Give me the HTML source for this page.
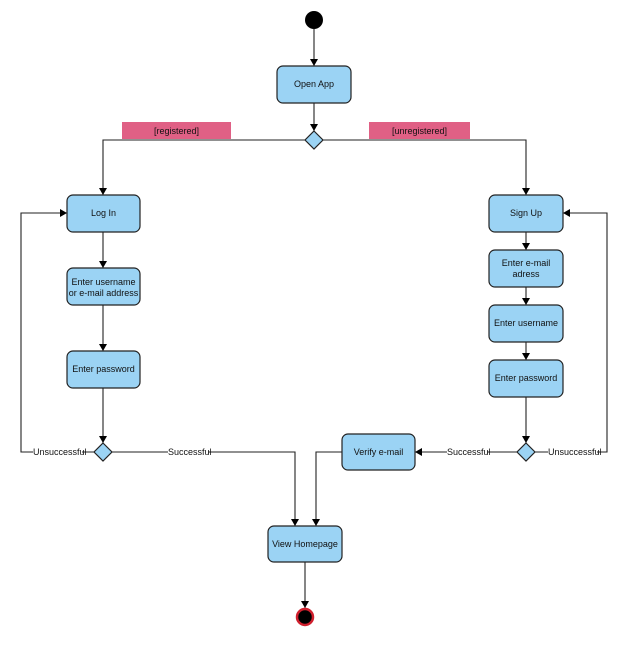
<!DOCTYPE html>
<html><head><meta charset="utf-8"><style>
html,body{margin:0;padding:0;background:#fff;}
svg{display:block;}
text{font-family:"Liberation Sans",Arial,sans-serif;font-size:9px;fill:#111;}
</style></head><body>
<svg width="628" height="647" viewBox="0 0 628 647" xmlns="http://www.w3.org/2000/svg">
<defs>
<marker id="a" markerWidth="8" markerHeight="8" refX="7" refY="4" orient="auto" markerUnits="userSpaceOnUse">
<path d="M0,0 L7,4 L0,8 z" fill="#000"/></marker>
</defs>
<g fill="none" stroke="#222" stroke-width="1.1">
<path d="M314,29 V66" marker-end="url(#a)"/>
<path d="M314,103 V131" marker-end="url(#a)"/>
<path d="M305,140 H103 V195" marker-end="url(#a)"/>
<path d="M323,140 H526 V195" marker-end="url(#a)"/>
<path d="M103,232 V268" marker-end="url(#a)"/>
<path d="M103,305 V351" marker-end="url(#a)"/>
<path d="M103,388 V443" marker-end="url(#a)"/>
<path d="M526,232 V250" marker-end="url(#a)"/>
<path d="M526,287 V305" marker-end="url(#a)"/>
<path d="M526,342 V360" marker-end="url(#a)"/>
<path d="M526,397 V443" marker-end="url(#a)"/>
<path d="M94,452 H21 V213 H67" marker-end="url(#a)"/>
<path d="M535,452 H607 V213 H563" marker-end="url(#a)"/>
<path d="M112,452 H295 V526" marker-end="url(#a)"/>
<path d="M517,452 H415" marker-end="url(#a)"/>
<path d="M342,452 H316 V526" marker-end="url(#a)"/>
<path d="M305,562 V608" marker-end="url(#a)"/>
</g>
<circle cx="314" cy="20" r="9" fill="#000"/>
<circle cx="305" cy="617" r="8" fill="#000" stroke="#d0202e" stroke-width="2.5"/>
<rect x="122" y="122" width="109" height="17" fill="#e06085"/>
<rect x="369" y="122" width="101" height="17" fill="#e06085"/>
<text x="176.5" y="134" text-anchor="middle">[registered]</text>
<text x="419.5" y="134" text-anchor="middle">[unregistered]</text>
<g fill="#9bd3f4" stroke="#222" stroke-width="1.2">
<rect x="277" y="66" width="74" height="37" rx="6"/>
<rect x="67" y="195" width="73" height="37" rx="6"/>
<rect x="67" y="268" width="73" height="37" rx="6"/>
<rect x="67" y="351" width="73" height="37" rx="6"/>
<rect x="489" y="195" width="74" height="37" rx="6"/>
<rect x="489" y="250" width="74" height="37" rx="6"/>
<rect x="489" y="305" width="74" height="37" rx="6"/>
<rect x="489" y="360" width="74" height="37" rx="6"/>
<rect x="342" y="434" width="73" height="36" rx="6"/>
<rect x="268" y="526" width="74" height="36" rx="6"/>
<path d="M314,131 L323,140 L314,149 L305,140 z"/>
<path d="M103,443 L112,452 L103,461 L94,452 z"/>
<path d="M526,443 L535,452 L526,461 L517,452 z"/>
</g>
<g text-anchor="middle">
<text x="314" y="87">Open App</text>
<text x="103.5" y="216">Log In</text>
<text x="103.5" y="285">Enter username</text>
<text x="103.5" y="296">or e-mail address</text>
<text x="103.5" y="372">Enter password</text>
<text x="526" y="216">Sign Up</text>
<text x="526" y="266">Enter e-mail</text>
<text x="526" y="277">adress</text>
<text x="526" y="326">Enter username</text>
<text x="526" y="381">Enter password</text>
<text x="378.5" y="455">Verify e-mail</text>
<text x="305" y="547">View Homepage</text>
</g>
<g>
<rect x="33" y="446" width="49" height="11" fill="#fff"/>
<text x="33" y="455">Unsuccessful</text>
<rect x="168" y="446" width="40" height="11" fill="#fff"/>
<text x="168" y="455">Successful</text>
<rect x="447" y="446" width="40" height="11" fill="#fff"/>
<text x="447" y="455">Successful</text>
<rect x="548" y="446" width="49" height="11" fill="#fff"/>
<text x="548" y="455">Unsuccessful</text>
</g>
</svg>
</body></html>
